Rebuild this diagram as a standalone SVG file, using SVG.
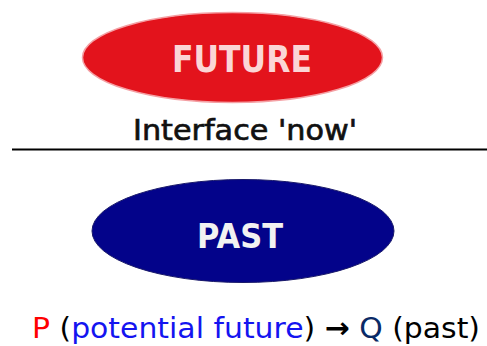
<svg xmlns="http://www.w3.org/2000/svg" width="487" height="346" viewBox="0 0 487 346">
<style>
.lbl{font-family:"DejaVu Sans","Liberation Sans",sans-serif;}
</style>
<rect width="487" height="346" fill="#ffffff"/>
<g id="future">
<ellipse cx="232.5" cy="57.5" rx="150" ry="45" fill="#e3131c" stroke="#f4a0a4" stroke-width="1.5"/>
<text class="lbl" x="172" y="72" font-size="37" font-weight="bold" fill="#fbd6d6" textLength="140" lengthAdjust="spacingAndGlyphs">FUTURE</text>
</g>
<g id="interface">
<text class="lbl" x="133" y="140" font-size="29" fill="#111111" stroke="#111111" stroke-width="0.7" textLength="224" lengthAdjust="spacingAndGlyphs">Interface 'now'</text>
</g>
<g id="connectors">
<line x1="12" y1="149.5" x2="487" y2="149.5" stroke="#000000" stroke-width="2"/>
</g>
<g id="past">
<ellipse cx="243" cy="231" rx="151" ry="51.5" fill="#03038a" stroke="#1a1a6a" stroke-width="1"/>
<text class="lbl" x="197" y="248" font-size="34" font-weight="bold" fill="#f2f2f2" textLength="86" lengthAdjust="spacingAndGlyphs">PAST</text>
</g>
<g id="caption">
<text class="lbl" x="32" y="338" font-size="29" fill="#000000" textLength="448" lengthAdjust="spacingAndGlyphs"><tspan fill="#ff0000">P</tspan> (<tspan fill="#1414f0">potential future</tspan>) <tspan font-weight="bold">→</tspan> <tspan fill="#0a2a66">Q</tspan> (past)</text>
</g>
</svg>
